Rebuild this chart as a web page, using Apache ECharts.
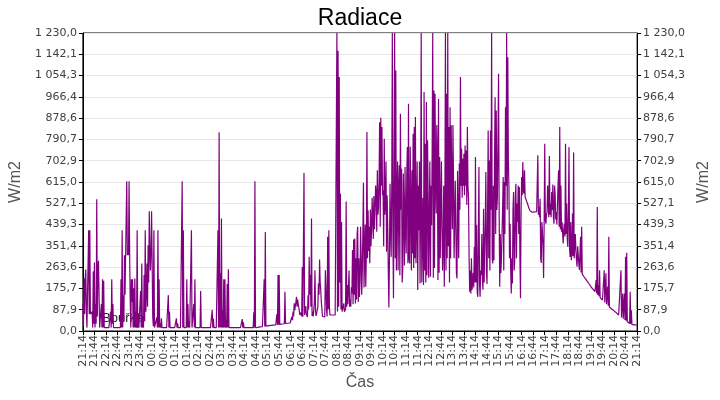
<!DOCTYPE html>
<html>
<head>
<meta charset="utf-8">
<title>Radiace</title>
<script src="https://cdn.jsdelivr.net/npm/echarts@6/dist/echarts.min.js"></script>
<style>
  html, body { margin: 0; padding: 0; background: #fff; }
  #chart { width: 720px; height: 400px; }
</style>
</head>
<body>
<div id="chart"></div>
<script>
// popisky osy X (po 30 min)
const tickLabels = [
  '21:14', '21:44', '22:14', '22:44', '23:14', '23:44', '00:14', '00:44',
  '01:14', '01:44', '02:14', '02:44', '03:14', '03:44', '04:14', '04:44',
  '05:14', '05:44', '06:14', '06:44', '07:14', '07:44', '08:14', '08:44',
  '09:14', '09:44', '10:14', '10:44', '11:14', '11:44', '12:14', '12:44',
  '13:14', '13:44', '14:14', '14:44', '15:14', '15:44', '16:14', '16:44',
  '17:14', '17:44', '18:14', '18:44', '19:14', '19:44', '20:14', '20:44',
  '21:14'
];
const stepSeconds = 90;      // vzorek kazdych 1,5 min
const samplesPerTick = 20;   // 20 vzorku na jeden popisek

// radiace W/m2, jeden radek = 30 minut
const radiation = [
  114, 20, 217, 70, 217, 254, 80, 14, 14, 14, 416, 70, 416, 69, 75, 69, 80, 14, 247, 30,          // 21:14
  283, 14, 111, 30, 544, 60, 247, 290, 283, 14, 14, 14, 111, 14, 214, 14, 207, 14, 14, 14,        // 21:44
  14, 14, 14, 14, 14, 14, 14, 14, 80, 14, 214, 30, 111, 14, 14, 14, 14, 14, 14, 14,               // 22:14
  14, 14, 14, 14, 14, 14, 214, 14, 416, 14, 148, 40, 313, 150, 313, 320, 618, 313, 330, 313,      // 22:44
  618, 313, 128, 14, 214, 120, 214, 14, 176, 14, 217, 14, 80, 14, 416, 14, 73, 14, 14, 14,        // 23:14
  165, 14, 279, 14, 60, 14, 231, 40, 416, 80, 155, 279, 100, 354, 200, 494, 330, 250, 330, 494,   // 23:44
  494, 59, 20, 416, 14, 14, 14, 14, 56, 14, 416, 14, 214, 14, 32, 14, 52, 14, 14, 14,             // 00:14
  14, 14, 14, 14, 14, 14, 14, 14, 148, 14, 80, 14, 14, 14, 14, 14, 14, 14, 14, 14,                // 00:44
  14, 14, 52, 14, 32, 14, 14, 14, 14, 14, 14, 14, 618, 14, 416, 14, 14, 14, 14, 14,               // 01:14
  214, 14, 111, 14, 41, 14, 20, 14, 416, 14, 14, 14, 111, 14, 214, 14, 14, 14, 14, 14,            // 01:44
  14, 14, 14, 14, 165, 14, 14, 14, 14, 14, 14, 14, 14, 14, 14, 14, 14, 14, 14, 14,                // 02:14
  14, 14, 14, 14, 87, 14, 51, 14, 14, 14, 14, 14, 14, 14, 416, 14, 820, 14, 238, 14,              // 02:44
  464, 14, 87, 14, 214, 14, 214, 14, 45, 14, 194, 14, 255, 14, 14, 14, 18, 14, 14, 14,            // 03:14
  14, 14, 14, 14, 14, 14, 14, 14, 14, 14, 14, 14, 14, 14, 14, 14, 49, 14, 36, 14,                 // 03:44
  14, 14, 14, 14, 14, 14, 14, 14, 14, 14, 14, 14, 14, 14, 14, 14, 77, 14, 618, 14,                // 04:14
  14, 14, 15, 15, 16, 16, 17, 17, 18, 18, 18, 18, 19, 19, 214, 19, 409, 20, 22, 22,               // 04:44
  22, 22, 22, 22, 23, 23, 23, 23, 24, 24, 24, 24, 25, 25, 25, 25, 70, 25, 231, 26,                // 05:14
  231, 27, 28, 28, 29, 29, 30, 30, 30, 30, 162, 31, 31, 31, 32, 32, 32, 32, 33, 33,               // 05:44
  34, 34, 59, 45, 80, 60, 114, 85, 103, 120, 141, 100, 130, 110, 97, 80, 66, 60, 76, 60,          // 06:14
  264, 59, 62, 652, 66, 60, 103, 70, 62, 58, 147, 90, 306, 150, 231, 100, 464, 62, 80, 60,        // 06:44
  62, 120, 251, 80, 62, 60, 60, 100, 196, 150, 295, 200, 169, 120, 93, 60, 56, 58, 60, 58,        // 07:14
  251, 180, 89, 60, 389, 90, 416, 100, 66, 63, 63, 60, 59, 66, 60, 70, 69, 66, 73, 70,            // 07:44
  1230, 80, 1157, 100, 1048, 200, 567, 90, 450, 80, 87, 85, 114, 80, 80, 90, 535, 100, 190, 110,  // 08:14
  107, 250, 100, 130, 100, 180, 155, 334, 110, 378, 150, 382, 114, 300, 130, 400, 430, 120, 300, 140,   // 08:44
  200, 430, 306, 150, 250, 420, 612, 180, 309, 440, 183, 320, 821, 300, 498, 330, 430, 280, 501, 350,   // 09:14
  416, 550, 546, 380, 557, 420, 498, 600, 567, 410, 663, 480, 508, 620, 862, 430, 880, 600, 842, 560,   // 09:44
  581, 350, 794, 480, 533, 700, 327, 560, 430, 250, 97, 300, 608, 420, 306, 600, 1230, 400, 135, 700,   // 10:14
  1230, 300, 1075, 250, 560, 700, 251, 600, 684, 230, 897, 500, 670, 200, 251, 650, 485, 270, 677, 420, // 10:44
  320, 650, 759, 280, 938, 300, 279, 760, 759, 250, 663, 320, 814, 260, 842, 300, 883, 280, 485, 700,   // 11:14
  169, 600, 416, 700, 196, 500, 1230, 200, 203, 550, 190, 986, 250, 773, 200, 945, 230, 787, 560, 220,  // 11:44
  457, 700, 224, 600, 437, 750, 1230, 220, 993, 260, 979, 600, 485, 850, 732, 210, 958, 240, 718, 300,  // 12:14
  498, 700, 443, 250, 347, 600, 183, 500, 1230, 250, 979, 300, 1230, 350, 842, 200, 924, 300, 849, 600, // 12:44
  420, 850, 615, 300, 292, 620, 615, 240, 217, 660, 663, 300, 691, 500, 1048, 600, 752, 550, 711, 600,  // 13:14
  732, 560, 766, 600, 745, 520, 842, 600, 546, 300, 162, 250, 155, 300, 169, 200, 240, 180, 347, 200,   // 13:44
  718, 200, 437, 160, 141, 400, 677, 200, 141, 250, 231, 400, 217, 170, 505, 200, 196, 450, 656, 250,   // 14:14
  194, 500, 828, 300, 704, 250, 828, 500, 1230, 300, 279, 600, 292, 700, 965, 400, 910, 500, 553, 800,  // 14:44
  1062, 500, 183, 400, 240, 300, 299, 500, 636, 250, 615, 400, 924, 600, 1230, 500, 1130, 700, 594, 300,// 15:14
  443, 250, 155, 300, 196, 500, 574, 250, 292, 550, 608, 300, 526, 450, 601, 400, 594, 300, 135, 500,   // 15:44
  636, 560, 697, 580, 567, 663, 553, 560, 540, 545, 526, 520, 512, 508, 498, 496, 491, 490, 490, 490,   // 16:14
  490, 489, 492, 490, 490, 491, 493, 490, 725, 480, 512, 470, 546, 300, 281, 450, 409, 350, 219, 450,   // 16:44
  773, 460, 443, 480, 491, 600, 594, 470, 722, 480, 526, 470, 574, 500, 605, 470, 443, 600, 563, 460,   // 17:14
  491, 440, 443, 600, 663, 430, 842, 420, 601, 410, 450, 400, 361, 420, 443, 390, 773, 400, 526, 380,   // 17:44
  347, 500, 759, 340, 306, 450, 292, 320, 485, 310, 737, 300, 292, 400, 334, 290, 265, 350, 347, 280,   // 18:14
  252, 249, 389, 242, 430, 235, 231, 228, 224, 221, 217, 214, 210, 207, 204, 201, 197, 194, 190, 187,   // 18:44
  183, 180, 177, 174, 172, 169, 166, 163, 160, 210, 155, 512, 149, 190, 144, 251, 138, 136, 133, 130,   // 19:14
  128, 126, 123, 251, 118, 116, 238, 111, 109, 183, 104, 389, 99, 97, 95, 93, 91, 89, 87, 85,           // 19:44
  83, 81, 79, 77, 75, 73, 71, 69, 66, 64, 62, 60, 251, 56, 54, 155, 51, 49, 155, 45,                    // 20:14
  306, 42, 323, 39, 37, 35, 33, 31, 162, 29, 86, 27, 26, 25, 25, 25, 25, 25, 25, 25,                    // 20:44
  25                                                                                                    // 21:14
];

function pad(n) {
  return String(n).padStart(2, '0');
}

// casy vzorku od prvniho popisku
const [h0, m0] = tickLabels[0].split(':').map(Number);
const times = radiation.map((_, i) => {
  const s = (h0 * 3600 + m0 * 60 + i * stepSeconds) % 86400;
  return `${pad(Math.floor(s / 3600))}:${pad(Math.floor(s / 60) % 60)}:${pad(s % 60)}`;
});

function formatValue(v) {
  const [int, dec] = v.toFixed(1).split('.');
  return int.replace(/\B(?=(\d{3})+(?!\d))/g, ' ') + ',' + dec;
}

const yMax = 1230;
const yStep = yMax / 14;
const labelFont = 'DejaVu Sans';

function valueAxis(position, showSplit) {
  return {
    type: 'value',
    position,
    min: 0,
    max: yMax,
    interval: yStep,
    name: 'W/m2',
    nameLocation: 'middle',
    nameRotate: 90,
    nameGap: 50,
    nameTextStyle: { fontFamily: 'Liberation Sans', fontSize: 16, color: '#555' },
    axisLine: { show: true, lineStyle: { color: '#000', width: 1 } },
    axisTick: { show: true, length: 4, lineStyle: { color: '#000' } },
    axisLabel: {
      margin: 6,
      fontFamily: labelFont,
      fontSize: 11,
      color: '#404040',
      formatter: formatValue,
    },
    splitLine: { show: showSplit, lineStyle: { color: '#e8e8e8', width: 1 } },
  };
}

const chart = echarts.init(document.getElementById('chart'), null, { renderer: 'canvas' });

chart.setOption({
  animation: false,
  backgroundColor: '#fff',
  title: {
    text: 'Radiace',
    left: 'center',
    top: 2,
    textStyle: { fontFamily: 'Liberation Sans', fontSize: 23, fontWeight: 'normal', color: '#000' },
  },
  grid: {
    left: 76,
    right: 76,
    top: 33,
    bottom: 69,
    show: true,
    borderColor: '#000',
    borderWidth: 1,
  },
  graphic: [
    {
      type: 'text',
      left: 102,
      top: 312,
      z: 0,
      style: { text: 'Bouřka', fontFamily: 'Liberation Sans', fontSize: 13, fill: '#222' },
    },
  ],
  xAxis: {
    type: 'category',
    data: times,
    boundaryGap: false,
    name: 'Čas',
    nameLocation: 'middle',
    nameGap: 44,
    nameTextStyle: { fontFamily: 'Liberation Sans', fontSize: 16, color: '#555' },
    axisLine: { lineStyle: { color: '#000', width: 1 } },
    axisTick: { interval: samplesPerTick - 1, length: 4, lineStyle: { color: '#000' } },
    axisLabel: {
      interval: samplesPerTick - 1,
      rotate: 90,
      margin: 4,
      fontFamily: labelFont,
      fontSize: 11,
      color: '#404040',
      formatter: (v, i) => tickLabels[i / samplesPerTick] || v,
    },
    splitLine: { show: false },
  },
  yAxis: [valueAxis('left', true), valueAxis('right', false)],
  series: [
    {
      name: 'Radiace',
      type: 'line',
      data: radiation,
      showSymbol: false,
      sampling: 'none',
      z: 3,
      lineStyle: { color: '#800080', width: 1.2 },
    },
  ],
});
</script>
</body>
</html>
